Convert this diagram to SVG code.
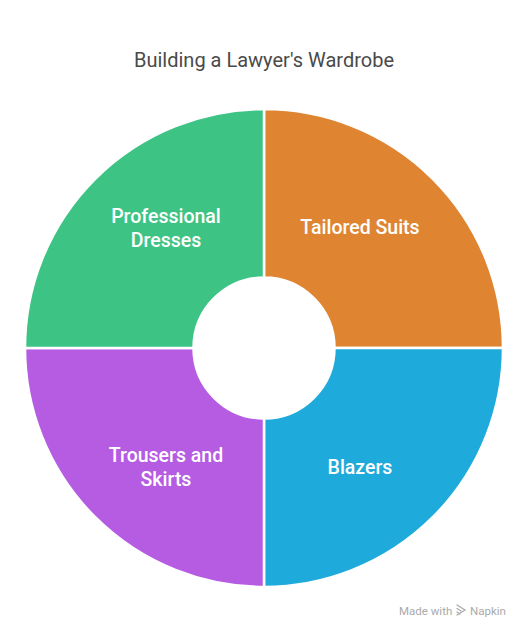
<svg xmlns="http://www.w3.org/2000/svg" width="528" height="636" viewBox="0 0 528 636">
<style>
.seg{stroke:#fff;stroke-width:2.5}
.lbl{font-family:Roboto,"Liberation Sans",sans-serif;font-size:19.5px;font-weight:500;fill:#fff;text-anchor:middle}
.title{font-family:Roboto,"Liberation Sans",sans-serif;font-size:20px;fill:#4a4a4a;text-anchor:middle}
.wm{font-family:Roboto,"Liberation Sans",sans-serif;font-size:11.5px;fill:#aaaaaa}
</style>
<rect width="528" height="636" fill="#fff"/>
<text class="title" x="264" y="67">Building a Lawyer's Wardrobe</text>
<g id="connectors"></g>
<g id="node-tailored-suits">
<path class="seg" fill="#DF8532" d="M264 109 A239 239 0 0 1 503 348 L334.5 348 A70.5 70.5 0 0 0 264 277.5 Z"/>
<text class="lbl" x="360" y="234">Tailored Suits</text>
</g>
<g id="node-blazers">
<path class="seg" fill="#1EAADA" d="M503 348 A239 239 0 0 1 264 587 L264 418.5 A70.5 70.5 0 0 0 334.5 348 Z"/>
<text class="lbl" x="360" y="474">Blazers</text>
</g>
<g id="node-trousers-skirts">
<path class="seg" fill="#B55CE3" d="M264 587 A239 239 0 0 1 25 348 L193.5 348 A70.5 70.5 0 0 0 264 418.5 Z"/>
<text class="lbl" x="166" y="462">Trousers and</text>
<text class="lbl" x="166" y="486">Skirts</text>
</g>
<g id="node-professional-dresses">
<path class="seg" fill="#3DC485" d="M25 348 A239 239 0 0 1 264 109 L264 277.5 A70.5 70.5 0 0 0 193.5 348 Z"/>
<text class="lbl" x="166" y="223">Professional</text>
<text class="lbl" x="166" y="247">Dresses</text>
</g>
<g id="watermark">
<text class="wm" x="399" y="615">Made with</text>
<g stroke="#aaaaaa" stroke-width="1.3" fill="none" stroke-linecap="round">
<path d="M457 605 L465 610 L457 615"/>
<path d="M457 608.5 L461 611"/>
<path d="M457 612 L460 614"/>
</g>
<text class="wm" x="470" y="615">Napkin</text>
</g>
</svg>
